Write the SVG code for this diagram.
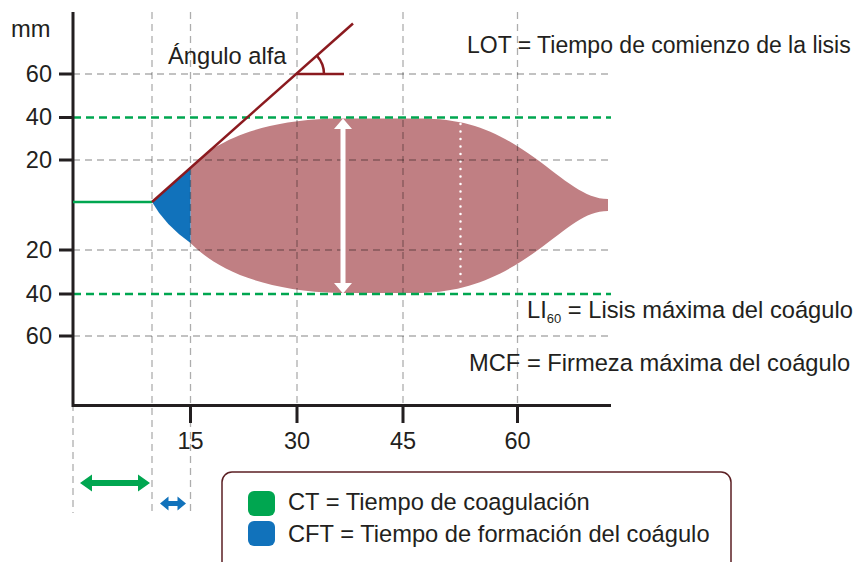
<svg xmlns="http://www.w3.org/2000/svg" width="859" height="562" viewBox="0 0 859 562">
<defs>
<style>
.t{font-family:"Liberation Sans",Arial,sans-serif;font-size:23.7px;fill:#231f20}
.n{font-family:"Liberation Sans",Arial,sans-serif;font-size:23.5px;fill:#231f20}
.grid{stroke:#000;stroke-opacity:0.32;stroke-width:1.3;stroke-dasharray:7 5;fill:none}
.gd{stroke:#00a650;stroke-width:2.5;stroke-dasharray:8 5;fill:none}
.ax{stroke:#231f20;stroke-width:3;fill:none}
</style>
</defs>
<rect width="859" height="562" fill="#fff"/>
<g id="curve">
<path d="M190.5,167 C212,145 250,122 330,118.5 L420,118.5 C470,118.5 500,133 535,158 C565,180 585,199 608,199 L608,211 C585,211 568,228 538,250 C505,274 470,292 420,293 L340,293 C260,291 215,268 190.5,243 Z" fill="#c07f83"/>
<path d="M152,202 L190.5,167 L190.5,243 Q165,225 152,202 Z" fill="#1172bb"/>
<path d="M460.5,124 L460.5,282" stroke="#fff" stroke-width="2.5" stroke-linecap="round" stroke-dasharray="0 7.5"/>
</g>
<g id="grid">
<path class="grid" d="M73,74 H611 M73,160 H611 M73,250 H611 M73,336 H611"/>
<path class="grid" d="M152,12 V513 M190.5,12 V513 M297,12 V404 M403,12 V404 M517.5,12 V404 M73,404 V513"/>
<path class="gd" d="M73,117.5 H611 M73,294 H611"/>
</g>
<g id="axes">
<path class="ax" d="M73,12 V405.5 H611"/>
<path class="ax" d="M59,74 H73 M59,117.5 H73 M59,160 H73 M59,250 H73 M59,294 H73 M59,336 H73"/>
<path class="ax" d="M190.5,404 V423 M297,404 V423 M403,404 V423 M517.5,404 V423"/>
<text class="t" x="11" y="37">mm</text>
<text class="n" x="52" y="82" text-anchor="end">60</text>
<text class="n" x="52" y="125" text-anchor="end">40</text>
<text class="n" x="52" y="168" text-anchor="end">20</text>
<text class="n" x="52" y="258" text-anchor="end">20</text>
<text class="n" x="52" y="302" text-anchor="end">40</text>
<text class="n" x="52" y="344" text-anchor="end">60</text>
<text class="n" x="190.5" y="449" text-anchor="middle">15</text>
<text class="n" x="297" y="449" text-anchor="middle">30</text>
<text class="n" x="403" y="449" text-anchor="middle">45</text>
<text class="n" x="517.5" y="449" text-anchor="middle">60</text>
</g>
<g id="baseline">
<path d="M73,202 H152" stroke="#00a650" stroke-width="2.5" fill="none"/>
</g>
<g id="alpha">
<path d="M152,202 L353,23.5" stroke="#8b1a1f" stroke-width="2.5" fill="none"/>
<path d="M297,74 H344" stroke="#8b1a1f" stroke-width="2.5" fill="none"/>
<path d="M317.2,56.1 A27,27 0 0 1 324,74" stroke="#8b1a1f" stroke-width="2.5" fill="none"/>
<text class="t" x="168" y="64">Ángulo alfa</text>
</g>
<g id="mcf-arrow">
<path d="M343,128 V284" stroke="#fff" stroke-width="5"/>
<path d="M343,118.5 L352,129 H334 Z M343,293.5 L352,283 H334 Z" fill="#fff"/>
</g>
<g id="ct-arrow">
<path d="M90,483 H140" stroke="#00a650" stroke-width="6"/>
<path d="M80,483 L92,474.5 V491.5 Z M150,483 L138,474.5 V491.5 Z" fill="#00a650"/>
</g>
<g id="cft-arrow">
<path d="M166,503.5 H180" stroke="#1172bb" stroke-width="5"/>
<path d="M160,503.5 L168.5,496.5 V510.5 Z M186,503.5 L177.5,496.5 V510.5 Z" fill="#1172bb"/>
</g>
<g id="labels">
<text class="t" x="467" y="53" font-size="23px" style="font-size:23px">LOT = Tiempo de comienzo de la lisis</text>
<text class="t" x="527" y="318">LI<tspan font-size="13" style="font-size:13px" dy="5">60</tspan><tspan dy="-5"> = Lisis máxima del coágulo</tspan></text>
<text class="t" x="469" y="371">MCF = Firmeza máxima del coágulo</text>
</g>
<g id="legend">
<rect x="222" y="472" width="509" height="110" rx="10" fill="#fff" stroke="#5b1f23" stroke-width="1.5"/>
<rect x="248" y="491" width="27" height="25" rx="6" fill="#00a650"/>
<rect x="248" y="521" width="27" height="25" rx="6" fill="#1172bb"/>
<text class="t" x="288" y="510">CT = Tiempo de coagulación</text>
<text class="t" x="288" y="542">CFT = Tiempo de formación del coágulo</text>
</g>
</svg>
